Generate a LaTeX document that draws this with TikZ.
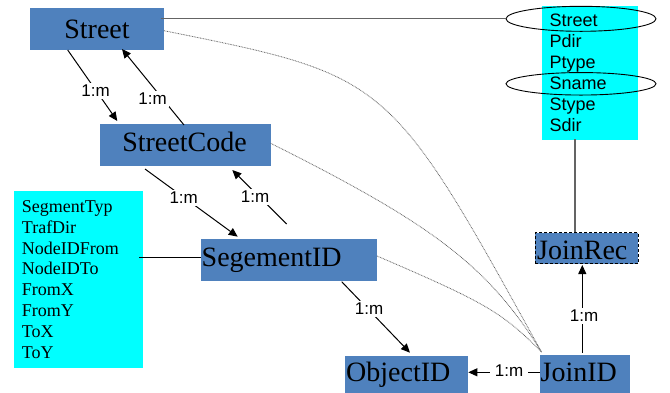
\documentclass[tikz,border=0pt]{standalone}
\usepackage{fontspec}
\setmainfont{Liberation Serif}
\newfontfamily\arialf{Liberation Sans}
\usetikzlibrary{arrows.meta,shapes.geometric}
\definecolor{boxblue}{RGB}{79,129,189}
\definecolor{aqua}{RGB}{0,255,255}
\definecolor{linegray}{RGB}{100,100,100}
\begin{document}
\begin{tikzpicture}[x=1pt,y=-1pt,
  bbox/.style={fill=boxblue, draw=none, rectangle, inner sep=0pt, anchor=north west},
  cbox/.style={fill=aqua, draw=none, rectangle, inner sep=0pt, anchor=north west},
  btext/.style={inner sep=0pt, font=\fontsize{28}{30}\selectfont},
  atext/.style={inner sep=0pt, anchor=base west, font=\arialf\fontsize{18}{20}\selectfont},
  stext/.style={inner sep=0pt, anchor=base west, font=\fontsize{18}{20}\selectfont},
  lbl/.style={fill=white, inner sep=2.5pt, font=\arialf\fontsize{17}{19}\selectfont},
  conn/.style={line width=1pt, -{Triangle[length=9pt,width=8pt]}},
  dotl/.style={black!60, line width=0.8pt, dash pattern=on 0.8pt off 0.8pt},
  glink/.style={linegray, line width=1.3pt},
  keyell/.style={draw=black, line width=0.9pt, ellipse, inner sep=0pt, minimum width=150pt, minimum height=25pt},
]
\useasboundingbox (0,0) rectangle (670,392);
\clip (0,0) rectangle (670,392);

% boxes
\node[bbox, minimum width=134pt, minimum height=42pt] (street) at (30,8) {};
\node[bbox, minimum width=171pt, minimum height=42pt] (scode) at (100,124) {};
\node[bbox, minimum width=176pt, minimum height=42pt] (segid) at (201,239) {};
\node[bbox, minimum width=123pt, minimum height=42pt] (objid) at (345,356) {};
\node[bbox, minimum width=90pt, minimum height=42pt] (joinid) at (540,355) {};
\node[bbox, draw=black, line width=0.9pt, dash pattern=on 3pt off 2pt, minimum width=103pt, minimum height=31pt] (joinrec) at (535,232.3) {};

% attribute boxes
\node[cbox, minimum width=96pt, minimum height=133.3pt] (rbox) at (542,6) {};
\node[cbox, minimum width=128.7pt, minimum height=177pt] (lbox) at (14,191) {};

% box texts
\node[btext, anchor=base] (street-t) at (97,38.5) {Street};
\node[btext, anchor=base] (scode-t) at (184.5,151.5) {StreetCode};
\node[btext, anchor=base west] (segid-t) at (201.5,266) {SegementID};
\node[btext, anchor=base west] (objid-t) at (346,381.7) {ObjectID};
\node[btext, anchor=base west] (joinid-t) at (540.5,381.7) {JoinID};
\node[btext, anchor=base west] (joinrec-t) at (537,259.5) {JoinRec};

% right attribute list
\node[atext] (r1) at (549.3,26.7) {Street};
\node[atext] (r2) at (549.3,47.7) {Pdir};
\node[atext] (r3) at (549.3,68.4) {Ptype};
\node[atext] (r4) at (549.3,89.3) {Sname};
\node[atext] (r5) at (549.3,110.1) {Stype};
\node[atext] (r6) at (549.3,131) {Sdir};
\node[keyell] (e1) at (581,18.8) {};
\node[keyell, minimum height=22.5pt] (e2) at (581,83.8) {};

% left attribute list
\node[stext] (s1) at (21.7,212.3) {SegmentTyp};
\node[stext] (s2) at (21.7,233.2) {TrafDir};
\node[stext] (s3) at (21.7,254.0) {NodeIDFrom};
\node[stext] (s4) at (21.7,274.9) {NodeIDTo};
\node[stext] (s5) at (21.7,295.8) {FromX};
\node[stext] (s6) at (21.7,316.6) {FromY};
\node[stext] (s7) at (21.7,337.5) {ToX};
\node[stext] (s8) at (21.7,358.3) {ToY};

% plain links
\coordinate (sa) at (161,18.7);
\draw[glink] (sa) -- (e1.west |- sa);
\coordinate (ra) at (575,139.3);
\draw[glink] (ra) -- (ra |- joinrec.north);
\coordinate (la) at (139,257.7);
\draw[line width=1pt] (la) -- (la -| segid.west);

% dotted links to JoinID
\coordinate (jt) at (541.5,352);
\coordinate (d1) at (164,30.7);
\coordinate (d2) at (270.7,143.3);
\coordinate (d3) at (377,256);
\draw[dotl] (d1) .. controls (389,76) and (389,76) .. (jt);
\draw[dotl] (d2) .. controls (434,225) and (488,266) .. (jt);
\draw[dotl] (d3) .. controls (486,302.8) and (502,312.2) .. (jt);

% 1:m connectors
\coordinate (c1s) at (67.7,50);   \coordinate (c1e) at (117.3,121);
\coordinate (c2s) at (184,125);   \coordinate (c2e) at (122,49);
\coordinate (c3s) at (145,169);   \coordinate (c3e) at (237.7,236.7);
\coordinate (c4s) at (286.7,224); \coordinate (c4e) at (232.3,170);
\coordinate (c5s) at (341.7,281.7); \coordinate (c5e) at (410,352.7);
\coordinate (c6s) at (540,372.3); \coordinate (c6e) at (468.3,372.3);
\coordinate (c7s) at (582.3,352.7); \coordinate (c7e) at (582.3,265);
\draw[conn] (c1s) -- (c1e);
\draw[conn] (c2s) -- (c2e);
\draw[conn] (c3s) -- (c3e);
\draw[conn] (c4s) -- (c4e);
\draw[conn] (c5s) -- (c5e);
\draw[conn] (c6s) -- (c6e);
\draw[conn] (c7s) -- (c7e);
\node[lbl] (l1) at (95.5,91) {1:m};
\node[lbl] (l2) at (152.5,99) {1:m};
\node[lbl] (l3) at (183.7,198) {1:m};
\node[lbl] (l4) at (255,197) {1:m};
\node[lbl] (l5) at (369,309) {1:m};
\node[lbl, inner xsep=5pt] (l6) at (509,371) {1:m};
\node[lbl] (l7) at (584,316) {1:m};
\end{tikzpicture}
\end{document}
